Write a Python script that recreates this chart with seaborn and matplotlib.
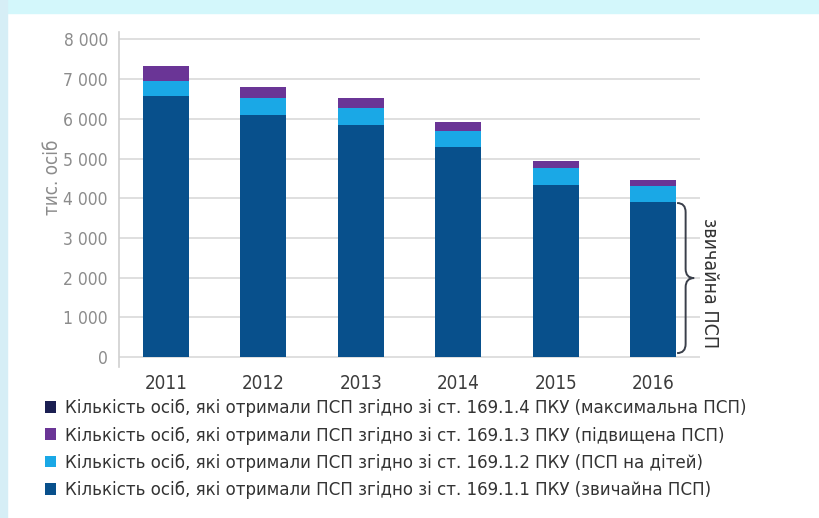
import numpy as np
import pandas as pd
import matplotlib.pyplot as plt
import seaborn as sns
from matplotlib.patches import Patch, Rectangle, PathPatch
from matplotlib.path import Path

# Data (thousand persons)
years = ["2011", "2012", "2013", "2014", "2015", "2016"]
regular = [6580, 6085, 5845, 5285, 4330, 3895]      # 169.1.1
children = [385, 430, 435, 405, 420, 405]           # 169.1.2
increased = [365, 275, 235, 225, 185, 150]          # 169.1.3
maximal = [10, 10, 10, 10, 10, 10]                  # 169.1.4

labels = [
    "Кількість осіб, які отримали ПСП згідно зі ст. 169.1.4 ПКУ (максимальна ПСП)",
    "Кількість осіб, які отримали ПСП згідно зі ст. 169.1.3 ПКУ (підвищена ПСП)",
    "Кількість осіб, які отримали ПСП згідно зі ст. 169.1.2 ПКУ (ПСП на дітей)",
    "Кількість осіб, які отримали ПСП згідно зі ст. 169.1.1 ПКУ (звичайна ПСП)",
]
colors = ["#1b1f52", "#6a3596", "#1aa8e6", "#08508c"]
yticks = [0, 1000, 2000, 3000, 4000, 5000, 6000, 7000, 8000]

df = pd.DataFrame({"year": years, "regular": regular, "children": children,
                   "increased": increased, "maximal": maximal})
df["c1"] = df["regular"]
df["c2"] = df["c1"] + df["children"]
df["c3"] = df["c2"] + df["increased"]
df["c4"] = df["c3"] + df["maximal"]

sns.set_style("white")
plt.rcParams["font.family"] = ["DejaVu Sans"]
plt.rcParams["font.stretch"] = "condensed"

fig = plt.figure(figsize=(8.2, 5.18), dpi=100)
fig.patch.set_facecolor("white")
# light cyan frame like the screenshot
fig.patches.append(Rectangle((0, 1 - 13 / 518), 1, 13 / 518, transform=fig.transFigure,
                             color="#d3f7fb", zorder=0))
fig.patches.append(Rectangle((0, 0), 7 / 820, 1, transform=fig.transFigure,
                             color="#d6eef6", zorder=0))

ax = fig.add_axes([119 / 820, 1 - 367 / 518, 581 / 820, 335.5 / 518])

# stacked bars: draw cumulative totals from top to bottom
for col, c in zip(["c4", "c3", "c2", "c1"], colors):
    sns.barplot(data=df, x="year", y=col, color=c, width=0.47, ax=ax,
                saturation=1, linewidth=0, zorder=3)

ax.set_xlim(-0.48, 5.48)
ax.set_ylim(-250, 8200)
ax.set_yticks(yticks)
ax.set_yticklabels([f"{v:,}".replace(",", " ") for v in yticks])
for v in yticks:
    ax.axhline(v, color="#dcdcdc", lw=1.3, zorder=1)
for s in ["top", "right", "bottom"]:
    ax.spines[s].set_visible(False)
ax.spines["left"].set_color("#d0d0d0")
ax.spines["left"].set_linewidth(1.2)
ax.tick_params(axis="y", length=0, labelsize=12.5, labelcolor="#8c8c8c", pad=8)
ax.tick_params(axis="x", length=0, labelsize=13.5, labelcolor="#3c3c3c", pad=5)
ax.set_xlabel("")
ax.set_ylabel("тис. осіб", fontsize=13.5, color="#8c8c8c")
ax.yaxis.set_label_coords(-0.098, 0.566)

# curly brace for the regular benefit
x0, w = 5.245, 0.175
ytop, ybot = 3880, 100
ymid = (ytop + ybot) / 2
r = 230
xm = x0 + w / 2
verts = [(x0, ytop), (xm, ytop), (xm, ytop - r), (xm, ymid + r),
         (xm, ymid), (x0 + w, ymid), (xm, ymid), (xm, ymid - r),
         (xm, ybot + r), (xm, ybot), (x0, ybot)]
codes = [Path.MOVETO, Path.CURVE3, Path.CURVE3, Path.LINETO,
         Path.CURVE3, Path.CURVE3, Path.CURVE3, Path.CURVE3,
         Path.LINETO, Path.CURVE3, Path.CURVE3]
ax.add_patch(PathPatch(Path(verts, codes), fill=False, ec="#3a3f4a", lw=1.4,
                       clip_on=False, zorder=4))
ax.text(5.58, 1864, "звичайна ПСП", rotation=-90, ha="center", va="center",
        fontsize=14, color="#333333", clip_on=False)

handles = [Patch(facecolor=c, edgecolor="none") for c in colors]
fig.legend(handles, labels, loc="upper left", bbox_to_anchor=(45 / 820, 1 - 399 / 518),
           frameon=False, fontsize=13.3, handlelength=0.6, handleheight=0.6,
           handletextpad=0.5, labelspacing=0.5, labelcolor="#333333",
           borderaxespad=0, borderpad=0)

fig.savefig("out.png", dpi=100, facecolor=fig.get_facecolor())
